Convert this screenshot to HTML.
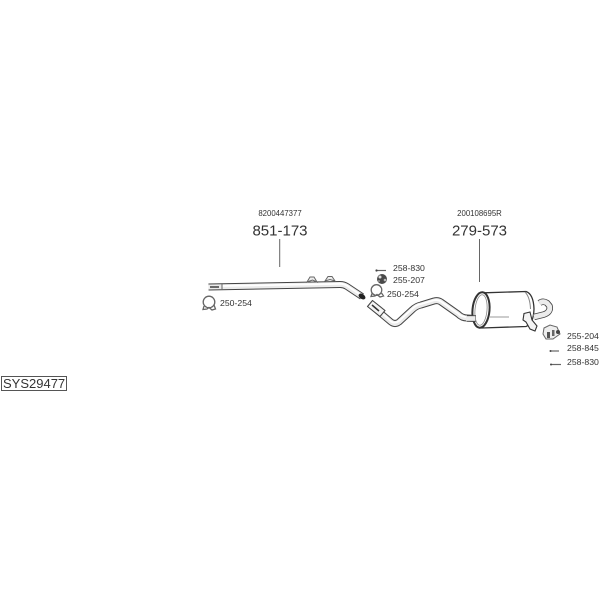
<!DOCTYPE html>
<html>
<head>
<meta charset="utf-8">
<style>
html,body{margin:0;padding:0;background:#fff;width:600px;height:600px;overflow:hidden}
svg{display:block}
text{font-family:"Liberation Sans",sans-serif;fill:#333}
.sm{font-size:7.800px}
.lbl{font-size:8.700px}
.big{font-size:15px}
.o{fill:none;stroke:#444;stroke-linejoin:round}
.i{fill:none;stroke:#ececec;stroke-linejoin:round}
.h{fill:none;stroke:#fff;stroke-linejoin:round}
.t{fill:none;stroke:#666;stroke-width:1.300}
</style>
</head>
<body>
<svg width="600" height="600" viewBox="0 0 600 600" xmlns="http://www.w3.org/2000/svg">
<rect width="600" height="600" fill="#fff"/>

<!-- labels -->
<text class="sm" x="280" y="216" text-anchor="middle">8200447377</text>
<text class="big" x="280" y="235.500" text-anchor="middle">851-173</text>
<line x1="279.700" y1="239" x2="279.700" y2="267" stroke="#666" stroke-width="1"/>
<text class="sm" x="479.500" y="216" text-anchor="middle">200108695R</text>
<text class="big" x="479.500" y="235.500" text-anchor="middle">279-573</text>
<line x1="479.500" y1="239" x2="479.500" y2="282" stroke="#666" stroke-width="1"/>

<!-- front pipe -->
<path class="o" stroke-width="7" d="M208.500 287L340 284.500Q344 284.500 347 286.500L362 296.500"/>
<path class="i" stroke-width="5" d="M208.500 287L340 284.500Q344 284.500 347 286.500L362 296.500"/>
<path class="h" stroke-width="1.800" d="M222 286L340 283.800Q344 283.800 347 285.800L360 294.500"/>
<path d="M222 284V290" stroke="#666" stroke-width="1"/>
<path d="M210 287H219" stroke="#333" stroke-width="1.400"/>
<ellipse cx="362" cy="296.500" rx="2.500" ry="3.800" transform="rotate(-55 362 296.500)" fill="#222"/>

<!-- hangers on front pipe -->
<path d="M307 282L310 277H314L317 282L312.500 280Z" fill="#eee" stroke="#666" stroke-width="1"/>
<path d="M325 281L328 276.500H332L335 281L330 279.500Z" fill="#eee" stroke="#666" stroke-width="1"/>

<!-- left clamp -->
<circle cx="209" cy="302" r="5.800" class="t"/>
<path class="t" d="M204 306L203 309.500L207 309L209 307.500L212 310L215.500 309L214 305"/>
<text class="lbl" x="220" y="306">250-254</text>

<!-- middle parts -->
<path d="M376 270.500H386" stroke="#666" stroke-width="1.200"/>
<circle cx="376.500" cy="270.500" r="1.100" fill="#444"/>
<text class="lbl" x="393" y="271">258-830</text>
<circle cx="382" cy="279" r="5" fill="#4a4a4a"/>
<circle cx="380" cy="277" r="1.500" fill="#ddd"/>
<circle cx="385" cy="280" r="1.300" fill="#bbb"/>
<circle cx="379" cy="281" r="1" fill="#999"/>
<text class="lbl" x="393" y="283">255-207</text>
<circle cx="376.500" cy="290" r="5.300" class="t"/>
<path class="t" d="M372 293.500L371 296.500L375 296L377 294.500L380 297L383.500 296L381.500 293"/>
<text class="lbl" x="387" y="297">250-254</text>

<!-- middle pipe -->
<path class="o" stroke-width="7" d="M372 306L391 322Q395 325 399 322L412 310Q416 306 421 305L434 301Q438 300 441 302L458 314Q462 318 467 318L476 318.500"/>
<path class="i" stroke-width="5" d="M372 306L391 322Q395 325 399 322L412 310Q416 306 421 305L434 301Q438 300 441 302L458 314Q462 318 467 318L476 318.500"/>
<path class="h" stroke-width="1.800" d="M382 313L391 321.500Q395 324 399 321L412 309Q416 305 421 304L434 300.300Q438 299.500 441 301.500L458 313.500Q462 317 467 317"/>
<path d="M367.500 306.500L372.500 300.500L385 310.500L380 316.500Z" fill="#f4f4f4" stroke="#444" stroke-width="1.100" stroke-linejoin="round"/>
<path d="M372 305L379 311" stroke="#333" stroke-width="1.500"/>

<!-- muffler body -->
<path d="M484 292.800L526 291.500Q533.500 294 534 309Q533.500 324 526 326.500L482 328Z" fill="#fff" stroke="#333" stroke-width="1.300"/>
<path d="M525 292Q530 297 530.500 309" fill="none" stroke="#888" stroke-width="1"/>
<path d="M490 317H509" stroke="#999" stroke-width="1"/>
<ellipse cx="481" cy="310" rx="8.500" ry="17.800" transform="rotate(5 481 310)" fill="#fff" stroke="#333" stroke-width="2"/>
<ellipse cx="481" cy="310" rx="6" ry="15.300" transform="rotate(5 481 310)" fill="#fff" stroke="#888" stroke-width="0.800"/>

<!-- inlet end over muffler -->
<path class="o" stroke-width="6.500" d="M467 318.500H476"/>
<path class="i" stroke-width="4.700" d="M466 318.500H475.500"/>

<!-- tail pipe -->
<path class="o" stroke-width="6.500" d="M534 317L544 314.500Q551 312 549.500 306L547 303Q543 300.500 539.500 303"/>
<path class="i" stroke-width="4.800" d="M534 317L544 314.500Q551 312 549.500 306L547 303Q543 300.500 539.500 303"/>

<!-- bracket -->
<path d="M524 313.500L530 312L532 320L537 326L535 331L530 329L526 322L523 320Z" fill="#f4f4f4" stroke="#333" stroke-width="1.100"/>

<!-- rear hanger -->
<path d="M544 328L550 325L557 327L560 334L553 339L546 339L543 334Z" fill="#eee" stroke="#666" stroke-width="1"/>
<circle cx="558" cy="332" r="2" fill="#444"/>
<rect x="547" y="332" width="3" height="6" fill="#555"/>
<rect x="552" y="330" width="2.500" height="6" fill="#666"/>

<text class="lbl" x="567" y="339">255-204</text>
<path d="M550 351H559" stroke="#666" stroke-width="1.200"/>
<circle cx="550.500" cy="351" r="1" fill="#444"/>
<text class="lbl" x="567" y="351">258-845</text>
<path d="M551 364.500H561" stroke="#666" stroke-width="1.200"/>
<circle cx="551" cy="364.500" r="1" fill="#444"/>
<text class="lbl" x="567" y="365">258-830</text>

<!-- box -->
<rect x="1.500" y="376.500" width="65" height="14" fill="#fff" stroke="#555" stroke-width="1"/>
<text x="3" y="388" style="font-size:13px">SYS29477</text>
</svg>
</body>
</html>
